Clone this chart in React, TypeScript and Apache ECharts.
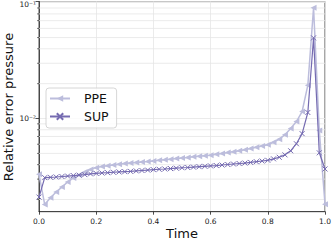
import React, { useEffect, useRef } from "react";
import * as echarts from "echarts";

const times = [
  0.0, 0.02, 0.04, 0.06, 0.08, 0.1, 0.12, 0.14, 0.16, 0.18,
  0.2, 0.22, 0.24, 0.26, 0.28, 0.3, 0.32, 0.34, 0.36, 0.38,
  0.4, 0.42, 0.44, 0.46, 0.48, 0.5, 0.52, 0.54, 0.56, 0.58,
  0.6, 0.62, 0.64, 0.66, 0.68, 0.7, 0.72, 0.74, 0.76, 0.78,
  0.8, 0.82, 0.84, 0.86, 0.88, 0.9, 0.92, 0.94, 0.96, 0.98, 1.0,
];

const ppe = [
  0.0033, 0.00181, 0.00207, 0.00232, 0.00256, 0.00283, 0.00307, 0.00325, 0.00346, 0.00364,
  0.00377, 0.00386, 0.00392, 0.00398, 0.00404, 0.0041, 0.00414, 0.00418, 0.00422, 0.00426,
  0.00431, 0.00436, 0.00441, 0.00446, 0.00451, 0.00456, 0.00462, 0.00467, 0.00473, 0.00478,
  0.00483, 0.00491, 0.005, 0.00508, 0.00517, 0.00527, 0.00538, 0.00551, 0.00565, 0.00579,
  0.00594, 0.00625, 0.00663, 0.00726, 0.00819, 0.00942, 0.0115, 0.0194, 0.0905, 0.00787, 0.00182,
];

const sup = [
  0.0021, 0.00309, 0.00311, 0.00313, 0.00316, 0.00319, 0.00322, 0.00325, 0.00328, 0.00333,
  0.00336, 0.00339, 0.00341, 0.00344, 0.00346, 0.00348, 0.0035, 0.00353, 0.00356, 0.00359,
  0.00362, 0.00365, 0.00367, 0.0037, 0.00373, 0.00376, 0.00378, 0.00381, 0.00384, 0.00387,
  0.0039, 0.00393, 0.00397, 0.00401, 0.00405, 0.00409, 0.00413, 0.00418, 0.00424, 0.0043,
  0.00436, 0.00449, 0.00463, 0.00486, 0.00527, 0.00606, 0.00741, 0.01128, 0.0497, 0.00506, 0.00367,
];

const minorTicks = [
  0.002, 0.003, 0.004, 0.005, 0.006, 0.007, 0.008, 0.009,
  0.02, 0.03, 0.04, 0.05, 0.06, 0.07, 0.08, 0.09,
];

const SUPERSCRIPT: Record<string, string> = {
  "0": "\u2070", "1": "\u00B9", "2": "\u00B2", "3": "\u00B3", "4": "\u2074",
  "5": "\u2075", "6": "\u2076", "7": "\u2077", "8": "\u2078", "9": "\u2079",
};

const X_TITLE = "Time";
const Y_TITLE = "Relative error pressure";

const FONT = "DejaVu Sans";
const GRID_COLOR = "#e6e6e6";

export default function App() {
  const ref = useRef<HTMLDivElement>(null);
  useEffect(() => {
    if (!ref.current) return;
    const chart = echarts.init(ref.current, null, { renderer: "svg" });
    chart.setOption({
      animation: false,
      textStyle: { fontFamily: FONT },
      grid: {
        left: 39,
        right: 7,
        top: 1.5,
        bottom: 29.3,
        outerBoundsMode: "none",
        containLabel: false,
        show: true,
        borderColor: "#222",
        borderWidth: 0.8,
        backgroundColor: "transparent",
      },
      graphic: [
        {
          type: "text",
          x: 8,
          y: 107,
          rotation: Math.PI / 2,
          silent: true,
          style: {
            text: Y_TITLE,
            font: '13px "DejaVu Sans"',
            fill: "#111",
            textAlign: "center",
            verticalAlign: "middle",
            textVerticalAlign: "middle",
          },
        },
        {
          type: "text",
          x: 182,
          y: 233,
          silent: true,
          style: {
            text: X_TITLE,
            font: '13px "DejaVu Sans"',
            fill: "#111",
            textAlign: "center",
            verticalAlign: "middle",
            textVerticalAlign: "middle",
          },
        },
      ],
      legend: {
        data: ["PPE", "SUP"],
        orient: "vertical",
        left: 46,
        top: 88,
        itemWidth: 20,
        itemHeight: 8,
        itemGap: 5,
        padding: [4, 8, 5, 3],
        backgroundColor: "rgba(255,255,255,0.8)",
        borderColor: "#cccccc",
        borderWidth: 0.8,
        borderRadius: 3,
        textStyle: { fontFamily: FONT, fontSize: 12.5, color: "#111", padding: [0, 0, 0, 9] },
      },
      xAxis: {
        type: "value",
        min: 0,
        max: 1,
        interval: 0.2,
        axisLine: { show: true, lineStyle: { color: "#222", width: 0.8 } },
        axisTick: { show: true, length: 3, lineStyle: { color: "#222", width: 0.8 } },
        axisLabel: {
          fontFamily: FONT,
          fontSize: 7.5,
          color: "#222",
          margin: 6,
          formatter: (v: number) => v.toFixed(1),
        },
        splitLine: { show: true, lineStyle: { color: GRID_COLOR, width: 0.8 } },
      },
      yAxis: {
        type: "log",
        logBase: 10,
        min: 0.00157,
        max: 0.1024,
        axisLine: { show: true, lineStyle: { color: "#222", width: 0.8 } },
        axisTick: { show: true, length: 3.5, lineStyle: { color: "#222", width: 0.8 } },
        axisLabel: {
          fontFamily: FONT,
          fontSize: 7.5,
          color: "#222",
          margin: 3,
          showMinLabel: false,
          showMaxLabel: true,
          formatter: (v: number) => {
            const l = Math.log10(v);
            const e = Math.round(l);
            if (Math.abs(l - e) > 0.02) return "";
            const digits = String(Math.abs(e))
              .split("")
              .map((c) => SUPERSCRIPT[c])
              .join("");
            const txt = "10" + (e < 0 ? "\u207B" : "") + digits;
            return e === -1 ? "{t|" + txt + "}" : txt;
          },
          rich: {
            t: { fontFamily: FONT, fontSize: 7.5, color: "#222", padding: [5, 0, 0, 0] },
          },
        },
        splitLine: { show: true, lineStyle: { color: GRID_COLOR, width: 0.8 } },
      },
      series: [
        {
          type: "custom",
          silent: true,
          z: 1,
          data: minorTicks.map((v) => [0, v]),
          encode: { x: 0, y: 1 },
          renderItem: (params: any, api: any) => {
            const v = api.value(1);
            const a = api.coord([0, v]);
            const b = api.coord([1, v]);
            return {
              type: "group",
              children: [
                {
                  type: "line",
                  shape: { x1: a[0], y1: a[1], x2: b[0], y2: b[1] },
                  style: { stroke: GRID_COLOR, lineWidth: 0.8 },
                },
                {
                  type: "line",
                  shape: { x1: a[0] - 2, y1: a[1], x2: a[0], y2: a[1] },
                  style: { stroke: "#222", lineWidth: 0.6 },
                },
              ],
            };
          },
        },
        {
          name: "PPE",
          type: "line",
          z: 3,
          data: times.map((t, i) => [t, ppe[i]]),
          symbol: "triangle",
          symbolRotate: 90,
          symbolSize: 6,
          showAllSymbol: true,
          itemStyle: { color: "#bcbddc" },
          lineStyle: { color: "#bcbddc", width: 1.5 },
        },
        {
          name: "SUP",
          type: "line",
          z: 4,
          data: times.map((t, i) => [t, sup[i]]),
          symbol: "path://M0,0L10,10M0,10L10,0",
          symbolSize: 5,
          showAllSymbol: true,
          itemStyle: { color: "#756bb1", borderColor: "#756bb1", borderWidth: 1 },
          lineStyle: { color: "#756bb1", width: 1.2 },
        },
      ],
    });
    return () => chart.dispose();
  }, []);
  return (
    <div
      ref={ref}
      style={{ position: "fixed", left: 0, top: 0, width: 332, height: 241, background: "#fff" }}
    />
  );
}
